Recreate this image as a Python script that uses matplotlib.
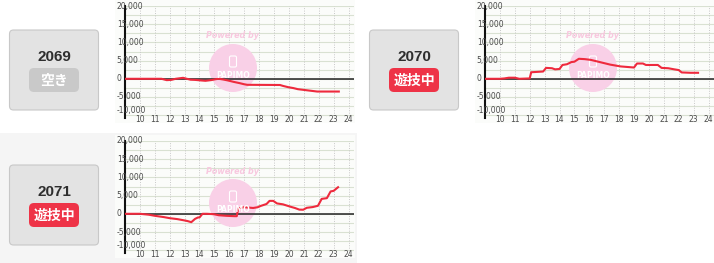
import matplotlib
matplotlib.use("Agg")
import matplotlib.pyplot as plt
from matplotlib.patches import FancyBboxPatch, Rectangle, Ellipse
from matplotlib.transforms import IdentityTransform

# ---------------- data ----------------
machine_ids = ["2069", "2070", "2071"]
status_labels = ["空き", "遊技中", "遊技中"]
x_ticks = list(range(10, 25))
y_ticks = [20000, 15000, 10000, 5000, 0, -5000, -10000]
y_tick_labels = ["20,000", "15,000", "10,000", "5,000", "0", "-5,000", "-10,000"]

hours_2069 = [9.0, 10.0, 11.45, 11.8, 12.1, 12.4, 12.9, 13.1, 13.4, 13.7, 14.1, 14.4, 14.8,
              15.1, 15.3, 15.6, 15.9, 16.3, 16.7, 17.0, 17.2, 19.4, 19.6, 19.95, 20.3, 20.6,
              21.1, 21.5, 21.9, 23.35]
values_2069 = [0, 0, 0, -370, -300, 0, 270, 50, -250, -300, -450, -550, -350,
               -100, 0, -200, -450, -850, -1200, -1500, -1650, -1700, -1950, -2300, -2550, -2850,
               -3100, -3300, -3500, -3500]

hours_2070 = [9.0, 10.0, 10.3, 10.6, 11.0, 11.3, 12.0, 12.1, 12.5, 12.9, 13.1, 13.5, 13.7,
              14.0, 14.2, 14.5, 14.8, 15.0, 15.3, 15.7, 16.1, 16.5, 16.8, 17.0, 17.4, 18.1,
              19.0, 19.2, 19.6, 19.8, 20.6, 20.85, 21.3, 21.7, 22.0, 22.2, 22.8, 23.3]
values_2070 = [0, 0, 100, 300, 300, 0, 100, 1800, 1900, 2000, 3000, 2900, 2600,
               2700, 3800, 4000, 4600, 4700, 5500, 5400, 5200, 4800, 4500, 4300, 3900, 3400,
               3100, 4200, 4200, 3800, 3800, 3000, 2900, 2600, 2400, 1750, 1650, 1650]

hours_2071 = [9.0, 10.0, 10.6, 11.0, 11.6, 12.0, 12.5, 12.9, 13.2, 13.45, 13.7, 13.9, 14.0,
              14.2, 14.5, 14.95, 15.3, 15.8, 16.35, 16.5, 16.6, 17.0, 17.6, 17.9, 18.1, 18.5,
              18.7, 18.95, 19.2, 19.6, 20.1, 20.4, 20.7, 20.96, 21.2, 21.6, 21.95, 22.2, 22.55,
              22.8, 23.0, 23.3]
values_2071 = [0, 0, -250, -550, -900, -1200, -1450, -1750, -2000, -2300, -1400, -1000, -1000,
               0, 0, -100, -400, -550, -650, -650, 1500, 1800, 1600, 1800, 2150, 2700,
               3550, 3550, 2850, 2600, 1950, 1600, 1150, 1120, 1650, 1850, 2200, 4100, 4300,
               6150, 6300, 7300]

series_hours = [hours_2069, hours_2070, hours_2071]
series_values = [values_2069, values_2070, values_2071]

# ---------------- layout ----------------
W, H = 714, 263
fig = plt.figure(figsize=(W / 100, H / 100), dpi=100)
fig.patch.set_facecolor("white")

def fy(y):
    return H - y

# light gray background for bottom row panel
fig.add_artist(Rectangle((0, 0), 357, H - 133, transform=IdentityTransform(),
                         facecolor="#f5f5f5", edgecolor="none", zorder=-5))

offsets = [(0, 0), (360, 0), (0, 135)]
badge_colors = ["#c9c9c9", "#ee3347", "#ee3347"]

PX_PER_HOUR = 14.9
PX_PER_5000 = 18.2
XMIN, XMAX = 9.0, 24.37
YMIN, YMAX = -10800, 20000

for i, (dx, dy) in enumerate(offsets):
    # chart background
    fig.add_artist(Rectangle((115 + dx, fy(123 + dy)), 240, 123, transform=IdentityTransform(),
                             facecolor="#fbfcfa", edgecolor="none", zorder=-4))
    # status box
    fig.add_artist(FancyBboxPatch((9.5 + dx, fy(110 + dy)), 89, 80,
                                  boxstyle="round,pad=0,rounding_size=4",
                                  transform=IdentityTransform(),
                                  facecolor="#e3e3e3", edgecolor="#c8c8c8", linewidth=0.8))
    fig.add_artist(FancyBboxPatch((29 + dx, fy(92 + dy)), 50, 24,
                                  boxstyle="round,pad=0,rounding_size=5",
                                  transform=IdentityTransform(),
                                  facecolor=badge_colors[i], edgecolor="none"))
    fig.text((54 + dx) / W, fy(57 + dy) / H, machine_ids[i], ha="center", va="center",
             fontsize=11, fontweight="bold", color="#2e2e2e", family="Liberation Sans")
    fig.text((54 + dx) / W, fy(80.5 + dy) / H, status_labels[i], ha="center", va="center",
             fontsize=10, fontweight="bold", color="white",
             family=["Noto Sans CJK JP", "DejaVu Sans"])

    # axes
    left = 125 + dx
    top = 6 + dy
    width = (XMAX - XMIN) * PX_PER_HOUR
    height = (YMAX - YMIN) / 5000 * PX_PER_5000
    ax = fig.add_axes([left / W, fy(top + height) / H, width / W, height / H])
    ax.set_xlim(XMIN, XMAX)
    ax.set_ylim(YMIN, YMAX)
    ax.patch.set_alpha(0)
    for s in ["top", "right", "bottom"]:
        ax.spines[s].set_visible(False)
    ax.spines["left"].set_color("#111111")
    ax.spines["left"].set_linewidth(1.5)
    ax.set_xticks([])
    ax.set_yticks([])

    # gridlines
    for yv in range(-10000, 20001, 2500):
        ax.axhline(yv, color="#d9e1d2", linewidth=0.8, zorder=1)
    for xv in x_ticks:
        ax.axvline(xv, color="#c8c8c8", linewidth=0.7, linestyle=(0, (1, 1.5)), zorder=1)

    # watermark
    cx, cy = 233 + dx, 68 + dy
    ax.add_patch(Ellipse(((cx) / W, fy(cy) / H), 48 / W, 48 / H, transform=fig.transFigure,
                         facecolor="#f9d0e7", edgecolor="none", zorder=2, clip_on=False))
    ax.add_patch(FancyBboxPatch((cx - 3.5, fy(cy - 1)), 7, 11,
                                boxstyle="round,pad=0,rounding_size=1.5",
                                transform=IdentityTransform(), facecolor="none",
                                edgecolor="white", linewidth=0.8, zorder=2, clip_on=False))
    fig.text(cx / W, fy(cy + 7) / H, "PAPIMO", ha="center", va="center", fontsize=5.5,
             color="white", fontweight="bold", zorder=3)
    fig.text(cx / W, fy(cy - 32) / H, "Powered by", ha="center", va="center", fontsize=5.8,
             color="#f8c8df", fontweight="bold", style="italic")

    # zero line and series
    ax.axhline(0, color="#222222", linewidth=1.1, zorder=3)
    ax.plot(series_hours[i], series_values[i], color="#ee2a3d", linewidth=1.5, zorder=4,
            solid_joinstyle="round")

    # tick labels
    for yv, lab in zip(y_ticks, y_tick_labels):
        yy = yv if yv != -10000 else -8600
        ax.text(8.45, yy, lab, ha="left", va="center", fontsize=5.5, color="#4a4a4a",
                clip_on=False, zorder=5)
    for xv in x_ticks:
        ax.text(xv, YMIN - 350, str(xv), ha="center", va="center", fontsize=5.5,
                color="#4a4a4a", clip_on=False, zorder=5)

fig.savefig("out.png", dpi=100)
